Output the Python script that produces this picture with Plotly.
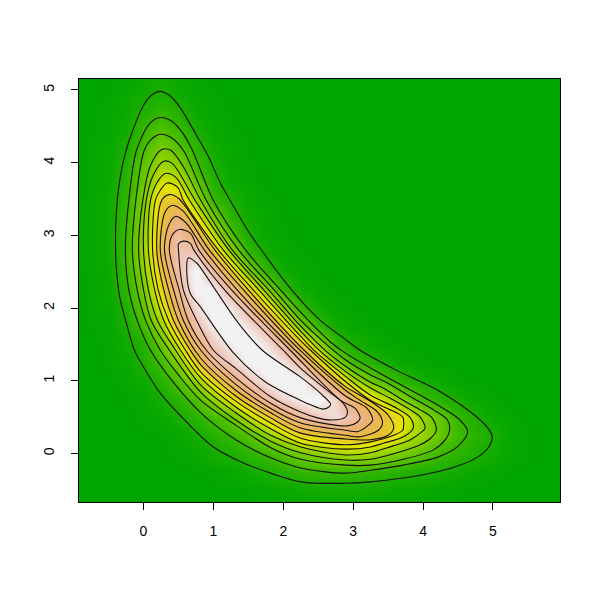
import plotly.graph_objects as go

grid_x = [-1, -.75, -.5, -.25, 0, .25, .5, .75, 1, 1.25, 1.5, 1.75, 2, 2.25, 2.5, 2.75, 3, 3.25, 3.5, 3.75, 4, 4.25, 4.5, 4.75, 5, 5.25, 5.5, 5.75, 6]
grid_y = [-.75, -.5, -.25, 0, .25, .5, .75, 1, 1.25, 1.5, 1.75, 2, 2.25, 2.5, 2.75, 3, 3.25, 3.5, 3.75, 4, 4.25, 4.5, 4.75, 5, 5.25]

density = [
 [0,0,0,0,0,0,0,0,0,0,0,0,0,0,.1,.15,.15,.1,0,0,0,0,0,0,0,0,0,0,0],
 [0,0,0,0,0,0,0,0,0,0,.05,.15,.3,.5,.65,.7,.7,.65,.5,.35,.25,.15,.08,0,0,0,0,0,0],
 [0,0,0,0,0,0,0,0,.1,.25,.6,.95,1.35,1.8,1.95,2.1,2.1,1.9,1.6,1.35,1.15,.9,.6,.3,.12,0,0,0,0],
 [0,0,0,0,0,0,.08,.3,.7,1.1,1.6,2.05,2.9,3.9,4.5,5,5.3,5.05,4.4,3.75,3,2.1,1.6,1.1,.6,.2,.05,0,0],
 [0,0,0,0,0,.05,.3,.7,1.4,2,2.8,4.5,6,7.7,8,8.7,9.1,8.6,8,5.9,4.9,3.4,2.3,1.5,.95,.3,.07,0,0],
 [0,0,0,0,.1,.35,.9,1.6,2.4,3.4,5.7,7.6,9.5,11.2,12.2,12.9,11.6,10,8.1,6.6,4.8,3.2,1.9,1.05,.35,.08,0,0,0],
 [0,0,0,.05,.2,.7,1.5,2.7,4.6,6.8,9,11.2,12.6,13.5,14,12.5,9.6,7.3,5.5,3.9,2.3,1.4,.8,.3,.08,0,0,0,0],
 [0,0,0,.12,.55,1.4,2.7,4.7,7.4,9.8,11.8,13.2,14.3,13.9,11.8,8.7,5.3,3.7,2.5,1.5,.8,.35,.1,0,0,0,0,0,0],
 [0,0,.1,.35,1.1,2.3,4.2,7.6,11,12.2,13.6,14.3,13.2,11.3,7.9,4.5,2.2,1.45,.8,.3,.08,0,0,0,0,0,0,0,0],
 [0,0,.1,.55,1.3,3.4,6.3,9.9,12.2,13.4,14.3,13,11.1,8,5,1.8,.95,.35,.1,0,0,0,0,0,0,0,0,0,0],
 [0,.05,.2,.85,2.4,4.9,8.5,11.6,13.4,14.3,13,11.3,7.6,4,1.9,.7,.2,.05,0,0,0,0,0,0,0,0,0,0,0],
 [0,.05,.25,1.2,3.4,6.3,9.9,12.7,14.2,13.2,11.1,7.9,4.4,1.9,.7,.2,.05,0,0,0,0,0,0,0,0,0,0,0,0],
 [0,.05,.35,1.7,4,7.5,10.9,13.7,13.6,11.1,8,4.6,1.9,.55,.15,.03,0,0,0,0,0,0,0,0,0,0,0,0,0],
 [0,.1,.45,1.9,4.6,8.2,11.6,14,11.6,8.2,4.3,1.9,.65,.2,.05,0,0,0,0,0,0,0,0,0,0,0,0,0,0],
 [0,.1,.5,2.1,5,9,12,12.1,8.7,5.1,2,.75,.2,.05,0,0,0,0,0,0,0,0,0,0,0,0,0,0,0],
 [0,.12,.55,2,4.8,8.6,11.6,9.5,6,2.7,.98,.3,.08,0,0,0,0,0,0,0,0,0,0,0,0,0,0,0,0],
 [0,.1,.55,1.9,4.5,8.1,10.3,7,3.8,1.6,.65,.2,.05,0,0,0,0,0,0,0,0,0,0,0,0,0,0,0,0],
 [0,.1,.5,1.7,4.2,8,8,4.9,2,1,.35,.1,0,0,0,0,0,0,0,0,0,0,0,0,0,0,0,0,0],
 [0,.08,.4,1.5,3.6,6.3,5.9,3.2,1.3,.4,.1,0,0,0,0,0,0,0,0,0,0,0,0,0,0,0,0,0,0],
 [0,.06,.35,1.2,3.2,4.9,4.3,2.1,.9,.3,.08,0,0,0,0,0,0,0,0,0,0,0,0,0,0,0,0,0,0],
 [0,.05,.25,.9,2.4,3.8,2.8,1.6,.6,.2,.05,0,0,0,0,0,0,0,0,0,0,0,0,0,0,0,0,0,0],
 [0,.03,.2,.55,1.9,2.6,1.9,.8,.25,.06,0,0,0,0,0,0,0,0,0,0,0,0,0,0,0,0,0,0,0],
 [0,0,.15,.45,1.05,1.6,1.1,.4,.15,.03,0,0,0,0,0,0,0,0,0,0,0,0,0,0,0,0,0,0,0],
 [0,0,.05,.15,.5,.9,.5,.15,.05,0,0,0,0,0,0,0,0,0,0,0,0,0,0,0,0,0,0,0,0],
 [0,0,0,.05,.3,.5,.3,.05,0,0,0,0,0,0,0,0,0,0,0,0,0,0,0,0,0,0,0,0,0],
]

c1_x = [.24,.39,.53,.72,.92,1.10,1.24,1.49,1.64,2.12,2.53,2.86,3.10,3.61,4.21,4.68,4.92,4.99,4.94,4.78,4.44,3.96,3.25,2.86,2.25,1.82,1.43,1.00,.63,.24,0,-.13,-.23,-.34,-.39,-.40,-.39,-.34,-.26,-.14,0,.13]
c1_y = [4.98,4.91,4.75,4.44,4.10,3.72,3.48,3.07,2.86,2.25,1.83,1.59,1.42,1.15,.87,.57,.36,.23,.09,-.05,-.19,-.30,-.39,-.41,-.39,-.27,-.13,.09,.42,.83,1.19,1.42,1.74,2.15,2.56,2.80,3.30,3.76,4.13,4.48,4.79,4.94]
c2_x = [.24,.39,.56,.70,1.00,1.46,1.96,2.25,2.68,2.89,3.35,3.96,4.29,4.53,4.64,4.49,4.21,3.72,3.25,2.89,2.25,1.82,1.32,.82,.46,.10,-.09,-.21,-.26,-.21,-.10,.10]
c2_y = [4.62,4.58,4.41,4.17,3.48,2.80,2.25,1.94,1.53,1.38,1.12,.80,.62,.46,.30,.09,-.05,-.16,-.23,-.27,-.20,-.06,.19,.56,.94,1.42,1.83,2.25,2.80,3.48,4.17,4.55]
c3_x = [.24,.39,.57,.90,1.36,1.87,2.25,2.68,2.89,3.25,3.49,3.86,4.15,4.35,4.38,4.32,4.15,3.72,3.25,2.89,2.25,1.82,1.32,.82,.50,.24,.03,-.09,-.16,-.11,.01,.10]
c3_y = [4.39,4.35,4.17,3.48,2.80,2.25,1.83,1.45,1.29,1.08,.97,.76,.60,.46,.32,.19,.05,-.08,-.16,-.16,-.08,.08,.39,.73,1.08,1.42,1.83,2.25,2.80,3.48,4.17,4.31]
c4_x = [.26,.39,.56,.82,1.27,1.79,2.25,2.62,2.89,3.25,3.43,3.72,3.96,4.13,4.19,4.11,3.96,3.63,3.25,2.89,2.25,1.82,1.32,.82,.37,.11,0,-.07,-.01,.10]
c4_y = [4.18,4.17,3.96,3.48,2.80,2.25,1.75,1.40,1.20,.98,.90,.73,.60,.49,.32,.21,.12,.01,-.08,-.09,.01,.17,.46,.84,1.42,1.83,2.25,2.80,3.48,3.96]
c5_x = [.29,.41,.74,1.22,1.72,2.25,2.56,2.89,3.25,3.53,3.82,3.96,4.03,3.96,3.82,3.49,3.25,2.89,2.25,1.82,1.32,.82,.46,.20,.07,0,.04,.14]
c5_y = [4.02,3.99,3.48,2.80,2.25,1.68,1.38,1.13,.90,.76,.60,.50,.35,.28,.19,.08,.01,-.02,.09,.25,.56,.94,1.42,1.83,2.25,2.80,3.48,3.83]
c6_x = [.31,.46,.66,1.14,1.65,2.25,2.46,2.89,3.25,3.63,3.82,3.86,3.72,3.43,3.25,2.89,2.25,1.82,1.32,.82,.53,.29,.16,.07,.10,.19]
c6_y = [3.85,3.80,3.48,2.80,2.25,1.61,1.40,1.06,.80,.62,.49,.35,.23,.14,.09,.06,.14,.34,.64,1.04,1.42,1.83,2.25,2.80,3.48,3.72]
c7_x = [.34,.49,.57,1.07,1.57,2.25,2.39,2.89,3.25,3.49,3.71,3.72,3.71,3.58,3.25,2.89,2.25,1.82,1.32,.82,.60,.36,.21,.13,.17,.24]
c7_y = [3.72,3.66,3.48,2.80,2.25,1.55,1.42,.99,.73,.62,.50,.36,.32,.25,.16,.12,.21,.42,.72,1.12,1.42,1.83,2.25,2.80,3.48,3.62]
c8_x = [.37,.50,1.02,1.50,2.30,2.89,3.10,3.29,3.50,3.58,3.50,3.25,2.89,2.25,1.82,1.32,.82,.67,.43,.29,.19,.26]
c8_y = [3.56,3.51,2.80,2.25,1.42,.92,.80,.69,.53,.35,.25,.19,.20,.28,.49,.79,1.22,1.42,1.83,2.25,2.80,3.48]
c9_x = [.41,.56,.94,1.43,2.25,2.89,3.10,3.35,3.42,3.36,3.10,2.89,2.25,1.82,1.32,.82,.50,.36,.24,.31]
c9_y = [3.41,3.34,2.80,2.25,1.41,.87,.73,.57,.42,.32,.23,.25,.35,.56,.87,1.31,1.83,2.25,2.80,3.32]
c10_x = [.46,.60,.87,1.34,2.17,2.89,3.20,3.28,3.22,3.06,2.89,2.25,1.82,1.32,.82,.57,.43,.30,.36]
c10_y = [3.26,3.18,2.80,2.25,1.42,.79,.62,.46,.39,.30,.32,.42,.62,.95,1.42,1.83,2.25,2.80,3.14]
c11_x = [.51,.67,.79,1.26,2.10,2.82,3.03,3.10,3.06,2.92,2.25,1.82,1.32,.90,.64,.51,.37,.41]
c11_y = [3.08,3.03,2.80,2.25,1.42,.73,.62,.49,.43,.38,.49,.69,1.04,1.42,1.83,2.25,2.80,3.00]
c12_x = [.57,.67,.72,1.16,2.00,2.25,2.68,2.86,2.92,2.89,2.70,2.49,2.25,1.82,1.32,1.00,.76,.57,.50,.50]
c12_y = [2.92,2.89,2.80,2.25,1.42,1.17,.83,.69,.57,.50,.46,.49,.57,.78,1.17,1.42,1.83,2.25,2.80,2.88]
c13_x = [.64,.76,.82,1.03,1.36,1.70,2.25,2.53,2.68,2.58,2.39,2.25,1.75,1.29,.82,.67,.62]
c13_y = [2.69,2.62,2.55,2.25,1.79,1.42,1.05,.83,.67,.61,.67,.73,.98,1.38,2.01,2.20,2.48]

contours = [(c1_x, c1_y), (c2_x, c2_y), (c3_x, c3_y), (c4_x, c4_y), (c5_x, c5_y), (c6_x, c6_y), (c7_x, c7_y),
            (c8_x, c8_y), (c9_x, c9_y), (c10_x, c10_y), (c11_x, c11_y), (c12_x, c12_y), (c13_x, c13_y)]

x_ticks = [0, 1, 2, 3, 4, 5]
y_ticks = [0, 1, 2, 3, 4, 5]

terrain = [[0, "#00A600"], [.125, "#2DB400"], [.25, "#63C600"], [.375, "#A0D600"], [.5, "#E6E600"],
           [.625, "#E9BD3A"], [.75, "#ECB176"], [.875, "#EFC2B3"], [1, "#F2F2F2"]]

fig = go.Figure()
fig.add_trace(go.Heatmap(x=grid_x, y=grid_y, z=density, zmin=0, zmax=13.6, colorscale=terrain,
                         zsmooth="best", showscale=False, hoverinfo="skip"))
for cx, cy in contours:
    fig.add_trace(go.Scatter(x=cx + cx[:1], y=cy + cy[:1], mode="lines",
                             line=dict(color="#111111", width=1.1, shape="spline", smoothing=0.9),
                             showlegend=False, hoverinfo="skip"))

axis = dict(showgrid=False, zeroline=False, showline=True, mirror=True, linecolor="black", linewidth=1,
            ticks="outside", ticklen=7, tickwidth=1, tickcolor="black", tickmode="array",
            tickfont=dict(family="Liberation Sans", size=14, color="black"))
fig.update_xaxes(range=[-.923, 5.96], tickvals=x_ticks, ticktext=[str(v) for v in x_ticks], ticklabelstandoff=9, **axis)
fig.update_yaxes(range=[-.667, 5.15], tickvals=y_ticks, ticktext=[str(v) for v in y_ticks], tickangle=-90, ticklabelstandoff=11, **axis)
fig.update_layout(width=584, height=584, margin=dict(l=70.5, r=32, t=70.5, b=90), paper_bgcolor="white",
                  plot_bgcolor="white", showlegend=False)
fig.write_html("out.html", config={"displayModeBar": False})
